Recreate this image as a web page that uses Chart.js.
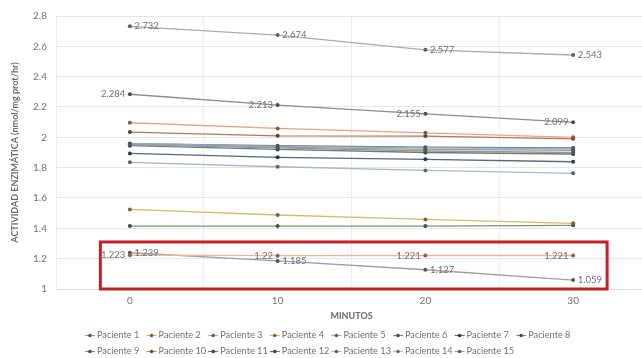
<!DOCTYPE html>
<html>
<head>
<meta charset="utf-8">
<script src="https://cdn.jsdelivr.net/npm/chart.js@4/dist/chart.umd.min.js"></script>
<style>
  html, body { margin: 0; padding: 0; background: #ffffff; overflow: hidden; }
  #wrap { width: 660px; height: 358px; }
</style>
</head>
<body>
<div id="wrap"><canvas id="c" width="660" height="358"></canvas></div>
<script>
// Minutes after the start of the assay
const minutos = ['0', '10', '20', '30'];

// Y axis ticks (nmol/mg prot/hr)
const yTickValues = [1, 1.2, 1.4, 1.6, 1.8, 2, 2.2, 2.4, 2.6, 2.8];

// Enzymatic activity per patient at 0, 10, 20 and 30 min
const paciente1  = [1.955, 1.935, 1.920, 1.915];
const paciente2  = [2.096, 2.059, 2.030, 2.000];
const paciente3  = [2.732, 2.674, 2.577, 2.543];
const paciente4  = [1.525, 1.488, 1.459, 1.433];
const paciente5  = [1.960, 1.940, 1.930, 1.925];
const paciente6  = [1.415, 1.415, 1.415, 1.420];
const paciente7  = [1.894, 1.868, 1.855, 1.839];
const paciente8  = [2.035, 2.010, 2.008, 1.990];
const paciente9  = [2.284, 2.213, 2.155, 2.099];
const paciente10 = [1.950, 1.930, 1.910, 1.900];
const paciente11 = [1.945, 1.920, 1.900, 1.890];
const paciente12 = [1.958, 1.945, 1.935, 1.930];
const paciente13 = [1.835, 1.806, 1.782, 1.763];
const paciente14 = [1.223, 1.22, 1.221, 1.221];
const paciente15 = [1.239, 1.185, 1.127, 1.059];

const series = [
  { label: 'Paciente 1',  data: paciente1,  color: '#8d9fbd' },
  { label: 'Paciente 2',  data: paciente2,  color: '#e8a57e' },
  { label: 'Paciente 3',  data: paciente3,  color: '#a9acb0', side: 'right' },
  { label: 'Paciente 4',  data: paciente4,  color: '#d6bd6c' },
  { label: 'Paciente 5',  data: paciente5,  color: '#92aecb' },
  { label: 'Paciente 6',  data: paciente6,  color: '#7f8f78' },
  { label: 'Paciente 7',  data: paciente7,  color: '#56677f' },
  { label: 'Paciente 8',  data: paciente8,  color: '#b07a5c' },
  { label: 'Paciente 9',  data: paciente9,  color: '#8a8c90', side: 'left' },
  { label: 'Paciente 10', data: paciente10, color: '#a8975e' },
  { label: 'Paciente 11', data: paciente11, color: '#62799a' },
  { label: 'Paciente 12', data: paciente12, color: '#6f7d68' },
  { label: 'Paciente 13', data: paciente13, color: '#a9b6cf' },
  { label: 'Paciente 14', data: paciente14, color: '#e9b79c', side: 'left' },
  { label: 'Paciente 15', data: paciente15, color: '#9c9fa4', side: 'right' }
];

// Region of interest outlined in red (category index / activity units)
const highlight = { xFrom: -0.2, xTo: 3.23, yFrom: 1.0, yTo: 1.31 };

const FONT = 'Lato, "Open Sans", sans-serif';

function darker(hex, f) {
  const n = parseInt(hex.slice(1), 16);
  const r = Math.round(((n >> 16) & 255) * f);
  const g = Math.round(((n >> 8) & 255) * f);
  const b = Math.round((n & 255) * f);
  return 'rgb(' + r + ',' + g + ',' + b + ')';
}

// Value labels next to the points of selected series
const valueLabels = {
  id: 'valueLabels',
  afterDatasetsDraw(chart) {
    const ctx = chart.ctx;
    chart.data.datasets.forEach((ds, i) => {
      if (!ds.valueSide) return;
      const meta = chart.getDatasetMeta(i);
      meta.data.forEach((pt, j) => {
        ctx.save();
        ctx.font = '9.5px ' + FONT;
        ctx.fillStyle = '#707070';
        ctx.textBaseline = 'middle';
        const right = ds.valueSide === 'right';
        ctx.textAlign = right ? 'left' : 'right';
        ctx.fillText(String(ds.data[j]), pt.x + (right ? 4.5 : -4.5), pt.y);
        ctx.restore();
      });
    });
  }
};

// Red outline around the low-activity patients
const highlightBox = {
  id: 'highlightBox',
  afterDraw(chart) {
    const { ctx, scales: { x, y } } = chart;
    const x0 = x.getPixelForValue(highlight.xFrom);
    const x1 = x.getPixelForValue(highlight.xTo);
    const y0 = y.getPixelForValue(highlight.yTo);
    const y1 = y.getPixelForValue(highlight.yFrom);
    ctx.save();
    ctx.strokeStyle = '#c42026';
    ctx.lineWidth = 3;
    ctx.strokeRect(x0, y0, x1 - x0, y1 - y0);
    ctx.restore();
  }
};

// Two-row legend laid out on a fixed column grid
const gridLegend = {
  id: 'gridLegend',
  afterDraw(chart) {
    const ctx = chart.ctx;
    const perRow = 8, colW = 61.6, startX = 85, startY = 335.5, rowH = 16;
    chart.data.datasets.forEach((ds, i) => {
      const col = i % perRow, row = Math.floor(i / perRow);
      const x = startX + col * colW, yy = startY + row * rowH;
      ctx.save();
      ctx.strokeStyle = ds.borderColor;
      ctx.lineWidth = 1.2;
      ctx.beginPath();
      ctx.moveTo(x, yy);
      ctx.lineTo(x + 10, yy);
      ctx.stroke();
      ctx.fillStyle = ds.pointBackgroundColor;
      ctx.beginPath();
      ctx.arc(x + 5, yy, 1.8, 0, Math.PI * 2);
      ctx.fill();
      ctx.font = '9.2px ' + FONT;
      ctx.fillStyle = '#707070';
      ctx.textBaseline = 'middle';
      ctx.textAlign = 'left';
      ctx.fillText(ds.label, x + 12, yy);
      ctx.restore();
    });
  }
};

new Chart(document.getElementById('c'), {
  type: 'line',
  data: {
    labels: minutos,
    datasets: series.map(s => ({
      label: s.label,
      data: s.data,
      borderColor: s.color,
      backgroundColor: s.color,
      pointBackgroundColor: darker(s.color, 0.55),
      pointBorderColor: darker(s.color, 0.55),
      pointRadius: 2,
      pointBorderWidth: 0,
      borderWidth: 1.3,
      tension: 0,
      fill: false,
      valueSide: s.side
    }))
  },
  options: {
    responsive: false,
    animation: false,
    devicePixelRatio: 1,
    layout: { padding: { top: 16, right: 13, bottom: 0, left: 0 } },
    plugins: {
      legend: { display: false },
      tooltip: { enabled: false }
    },
    scales: {
      x: {
        type: 'category',
        offset: true,
        afterFit(scale) { scale.height = 69; },
        grid: { offset: true, color: '#ececec', drawTicks: false },
        border: { color: '#e0e0e0' },
        ticks: { padding: 6, color: '#737373', font: { family: FONT, size: 10 } },
        title: {
          display: true,
          text: 'MINUTOS',
          color: '#6b6b6b',
          font: { family: FONT, size: 9, weight: 'bold' },
          padding: { top: 0, bottom: 37 }
        }
      },
      y: {
        min: 1,
        max: 2.8,
        afterFit(scale) { scale.width = 56; },
        afterBuildTicks(scale) { scale.ticks = yTickValues.map(v => ({ value: v })); },
        grid: { color: '#e6e6e6', drawTicks: false },
        border: { display: false },
        ticks: {
          padding: 9,
          color: '#737373',
          font: { family: FONT, size: 10 },
          callback: v => String(Math.round(v * 10) / 10)
        },
        title: {
          display: true,
          text: 'ACTIVIDAD ENZIMÁTICA (nmol/mg prot/hr)',
          color: '#6b6b6b',
          font: { family: FONT, size: 9, weight: 'bold' },
          padding: { top: 10, bottom: 0 }
        }
      }
    }
  },
  plugins: [valueLabels, highlightBox, gridLegend]
});
</script>
</body>
</html>
